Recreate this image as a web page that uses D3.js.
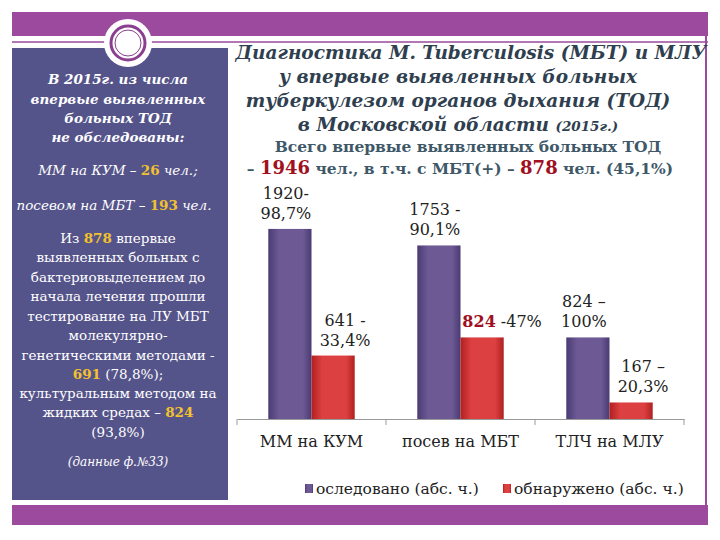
<!DOCTYPE html>
<html><head><meta charset="utf-8">
<script src="https://cdn.jsdelivr.net/npm/d3@7"></script>
<style>body{margin:0;background:#fff}svg{display:block}</style>
</head><body><div id="chart"></div>
<script>
// данные
const categories = ["ММ на  КУМ", "посев на МБТ", "ТЛЧ на МЛУ"];
const seriesNames = ["оследовано (абс. ч.)", "обнаружено (абс. ч.)"];
const examined = [1920, 1753, 824];
const found = [641, 824, 167];
const examinedLabels = [["1920-", "98,7%"], ["1753 -", "90,1%"], ["824 –", "100%"]];
const foundLabels = [["641 -", "33,4%"], ["824 -47%"], ["167 –", "20,3%"]];

const W = 720, H = 540;
const serif = "DejaVu Serif, serif";
const svg = d3.select("#chart").append("svg").attr("width", W).attr("height", H);

// рамка слайда
svg.append("rect").attr("x", 12).attr("y", 12).attr("width", 696).attr("height", 24).attr("fill", "#9b4a9e");
svg.append("line").attr("x1", 12).attr("x2", 708).attr("y1", 42).attr("y2", 42).attr("stroke", "#9b4a9e").attr("stroke-width", 1.5);
svg.append("rect").attr("x", 12).attr("y", 505).attr("width", 696).attr("height", 20).attr("fill", "#9b4a9e");
svg.append("line").attr("x1", 706).attr("x2", 706).attr("y1", 36).attr("y2", 505).attr("stroke", "#9b4a9e").attr("stroke-width", 2);
svg.append("rect").attr("x", 12).attr("y", 48).attr("width", 216).attr("height", 452).attr("fill", "#55548a");
svg.append("circle").attr("cx", 128).attr("cy", 43).attr("r", 24).attr("fill", "#fff");
svg.append("circle").attr("cx", 128).attr("cy", 43).attr("r", 17).attr("fill", "#fff").attr("stroke", "#8a3f8f").attr("stroke-width", 3);
svg.append("circle").attr("cx", 128).attr("cy", 43).attr("r", 13).attr("fill", "none").attr("stroke", "#8a3f8f").attr("stroke-width", 1);

// левая панель
const gold = "#f2c12e";
const left = svg.append("g").attr("fill", "#fff").attr("font-family", serif).attr("text-anchor", "middle");
function line(y, parts, opts = {}) {
  const t = left.append("text").attr("x", opts.x || 118).attr("y", y)
    .attr("font-size", opts.size || 13.5).attr("font-style", opts.italic ? "italic" : "normal")
    .attr("font-weight", opts.bold ? "bold" : "normal");
  parts.forEach(p => {
    const s = t.append("tspan").text(typeof p === "string" ? p : p[0]);
    if (typeof p !== "string") s.attr("fill", gold).attr("font-weight", "bold").attr("font-style", "normal");
  });
}
const bi = { italic: true, bold: true, size: 13.5 };
line(84, ["В 2015г. из числа"], bi);
line(104, ["впервые выявленных"], bi);
line(123, ["больных ТОД"], bi);
line(142, ["не обследованы:"], bi);
line(175, ["ММ  на КУМ – ", ["26"], " чел.;"], { italic: true });
line(210, ["посевом на МБТ –  ", ["193"], " чел."], { italic: true, x: 114 });
line(243, ["Из ", ["878"], "  впервые"]);
[["выявленных больных с"], ["бактериовыделением до"], ["начала лечения  прошли"],
 ["тестирование на ЛУ МБТ"], ["молекулярно-"], ["генетическими методами -"]]
  .forEach((l, i) => line(262 + i * 19.5, l));
line(379, [["691"], " (78,8%);"]);
line(398, ["культуральным методом на"]);
line(417, ["жидких средах – ", ["824"]]);
line(437, ["(93,8%)"]);
line(466, ["(данные ф.№33)"], { italic: true, size: 12 });

// заголовок
const titleColor = "#2f3f4f";
const tg = svg.append("g").attr("font-family", serif).attr("text-anchor", "middle").attr("fill", titleColor)
  .attr("font-style", "italic").attr("font-weight", "bold").attr("font-size", 18.5);
tg.append("text").attr("x", 471).attr("y", 59).text("Диагностика M. Tuberculosis (МБТ) и МЛУ");
tg.append("text").attr("x", 458).attr("y", 83).text("у впервые выявленных больных");
tg.append("text").attr("x", 458).attr("y", 107).text("туберкулезом органов дыхания (ТОД)");
const t4 = tg.append("text").attr("x", 458).attr("y", 131);
t4.append("tspan").text("в Московской области ");
t4.append("tspan").attr("font-size", 13.5).text("(2015г.)");
const sg = svg.append("g").attr("font-family", serif).attr("text-anchor", "middle").attr("fill", "#3e5868")
  .attr("font-weight", "bold").attr("font-size", 15.5);
sg.append("text").attr("x", 468).attr("y", 152).text("Всего впервые выявленных больных ТОД");
const s2 = sg.append("text").attr("x", 460).attr("y", 174);
s2.append("tspan").text("– ");
s2.append("tspan").attr("fill", "#a01020").attr("font-size", 18).text("1946");
s2.append("tspan").text(" чел., в т.ч. с МБТ(+) – ");
s2.append("tspan").attr("fill", "#a01020").attr("font-size", 18).text("878");
s2.append("tspan").text(" чел. (45,1%)");

// диаграмма
const x0 = d3.scaleBand().domain(categories).range([237, 684]).paddingInner(0.42).paddingOuter(0.21);
const x1 = d3.scaleBand().domain([0, 1]).range([0, x0.bandwidth()]);
const y = d3.scaleLinear().domain([0, 2000]).range([419, 221]);
const colors = [["#6d5a95", "#4a3a72"], ["#dd4040", "#b02020"]];
const defs = svg.append("defs");
colors.forEach((c, i) => {
  const g = defs.append("linearGradient").attr("id", "g" + i);
  g.append("stop").attr("offset", 0).attr("stop-color", c[1]);
  g.append("stop").attr("offset", 0.25).attr("stop-color", c[0]);
  g.append("stop").attr("offset", 0.8).attr("stop-color", c[0]);
  g.append("stop").attr("offset", 1).attr("stop-color", c[1]);
});
const data = categories.map((c, i) => ({ c, v: [examined[i], found[i]], l: [examinedLabels[i], foundLabels[i]] }));
const grp = svg.append("g").selectAll("g").data(data).join("g").attr("transform", d => `translate(${x0(d.c)},0)`);
grp.selectAll("rect").data(d => d.v).join("rect")
  .attr("x", (d, i) => x1(i)).attr("width", x1.bandwidth())
  .attr("y", d => y(d)).attr("height", d => y(0) - y(d))
  .attr("fill", (d, i) => `url(#g${i})`);

// подписи значений
const lab = svg.append("g").attr("font-family", serif).attr("font-size", 16).attr("fill", "#222").attr("text-anchor", "middle");
data.forEach(d => {
  d.v.forEach((v, i) => {
    const cx = x0(d.c) + x1(i) + x1.bandwidth() / 2 + (i === 1 ? 12 : -4);
    const lines = d.l[i];
    lines.forEach((s, k) => {
      const t = lab.append("text").attr("x", cx + (lines.length === 1 ? 8 : 0))
        .attr("y", y(v) - 10 - (lines.length - 1 - k) * 20);
      if (s.startsWith("824 -")) {
        t.append("tspan").attr("fill", "#a01020").attr("font-weight", "bold").text("824");
        t.append("tspan").text(" -47%");
      } else t.text(s);
    });
  });
});

// ось
svg.append("g").attr("transform", `translate(0,${y(0)})`)
  .call(d3.axisBottom(x0).tickSize(0).tickPadding(17))
  .attr("font-family", serif)
  .call(g => g.select(".domain").attr("stroke", "#999"))
  .call(g => g.selectAll(".tick text").attr("font-size", 16).attr("fill", "#222"));
svg.append("g").selectAll("line").data([237, ...categories.map(c => x0(c) + x0.bandwidth() + x0.step() * x0.paddingInner() / 2)])
  .join("line").attr("x1", d => d).attr("x2", d => d).attr("y1", y(0)).attr("y2", y(0) + 6).attr("stroke", "#999");

// легенда
const leg = svg.append("g").attr("font-family", serif).attr("font-size", 15.5).attr("fill", "#222");
[[305, 0], [503, 1]].forEach(([lx, i]) => {
  leg.append("rect").attr("x", lx).attr("y", 484).attr("width", 8).attr("height", 9).attr("fill", `url(#g${i})`);
  leg.append("text").attr("x", lx + 11).attr("y", 494).text(seriesNames[i]);
});
</script></body></html>
